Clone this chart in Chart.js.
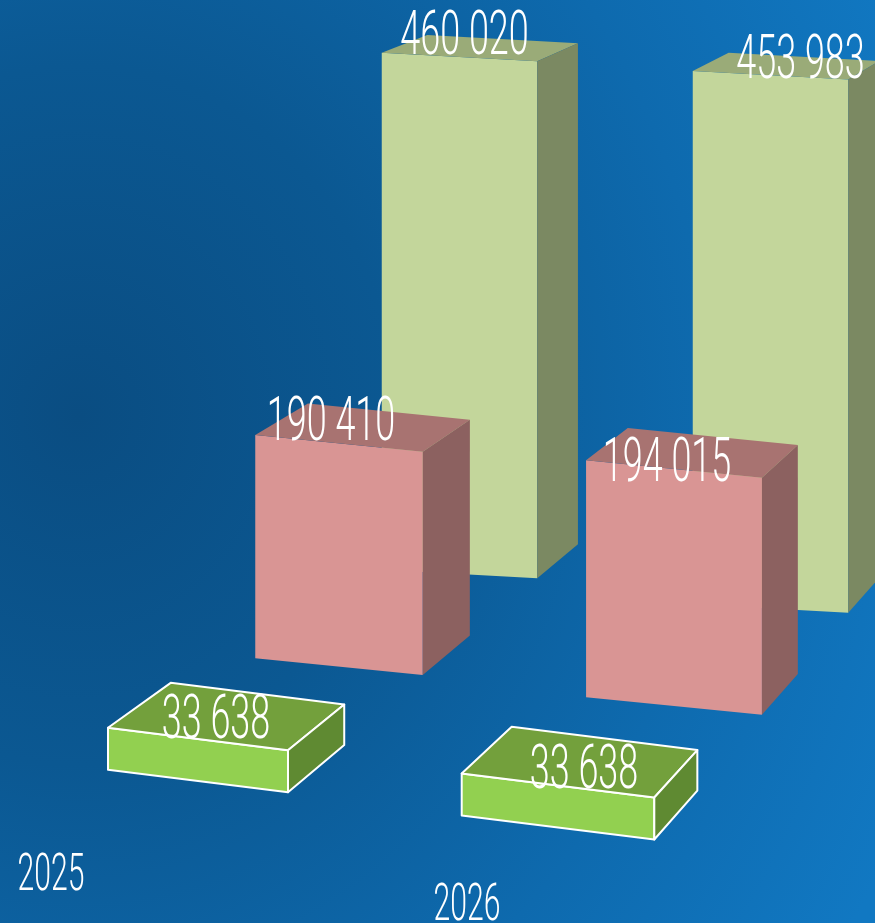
<!DOCTYPE html>
<html>
<head>
<meta charset="utf-8">
<script src="https://cdn.jsdelivr.net/npm/chart.js@4.4.1/dist/chart.umd.min.js"></script>
<style>
  html, body { margin: 0; padding: 0; overflow: hidden; }
  #wrap {
    width: 875px; height: 923px; position: relative;
    background: radial-gradient(ellipse 900px 1000px at 9% 45%, #0a4d82 0%, #0b5892 35%, #0e6aae 70%, #1178c2 100%);
  }
</style>
</head>
<body>
<div id="wrap"><canvas id="boxes" width="875" height="923"></canvas></div>
<script>
// categories
var years = [2025, 2026];

// series values (front row to back row)
var smallGreen = [33638, 33638];
var pinkValues = [190410, 194015];
var paleGreen = [460020, 453983];

// look of each row: colours of front / top / side faces
var faceColors = [
  { front: '#92d050', top: '#73a03c', side: '#5f8a32', outline: '#ffffff' },
  { front: '#d99594', top: '#a87371', side: '#8c6160', outline: null },
  { front: '#c3d69b', top: '#9aab78', side: '#7b8962', outline: null }
];

// perspective placement of each row (pixel layout, not data)
var rowViews = [
  { center: 198, spacing: 360, base: 781, pxPerUnit: 0.0012486, catSkew: 0.129, barSkew: 0.125, wGrow: 1.07, hGrow: 1.0, depth: 0.036 },
  { center: 339, spacing: 335, base: 666.5, pxPerUnit: 0.0011712, catSkew: 0.118, barSkew: 0.10, wGrow: 1.05, hGrow: 1.043, depth: 0.033 },
  { center: 459.5, spacing: 311, base: 574, pxPerUnit: 0.0011239, catSkew: 0.111, barSkew: 0.055, wGrow: 1.0, hGrow: 1.045, depth: 0.031 }
];
// label nudges per row, per category: [dx, dy]
var labelNudge = [
  [[18, -1], [26, 3]],
  [[-8, -3], [-7, 12]],
  [[5, -3], [30, 3]]
];
var vanish = { x: 1850, y: -520 };
var W = 875, H = 923;

function fmt(v) {
  return String(v).replace(/\B(?=(\d{3})+(?!\d))/g, ' ');
}

// build axis bounds so that each row sits where it does in the picture
function xBounds(view) {
  var min = years[0] - view.center / view.spacing;
  return { min: min, max: min + W / view.spacing };
}
function yBounds(view) {
  var min = -(H - view.base) / view.pxPerUnit;
  return { min: min, max: min + H / view.pxPerUnit };
}

var seriesList = [smallGreen, pinkValues, paleGreen];
var scales = {};
var datasets = seriesList.map(function (vals, d) {
  var xb = xBounds(rowViews[d]), yb = yBounds(rowViews[d]);
  scales['x' + d] = { type: 'linear', display: false, offset: false, min: xb.min, max: xb.max };
  scales['y' + d] = { type: 'linear', display: false, min: yb.min, max: yb.max };
  return {
    data: vals.map(function (v, i) { return { x: years[i], y: v }; }),
    xAxisID: 'x' + d,
    yAxisID: 'y' + d,
    backgroundColor: 'rgba(0,0,0,0)',
    borderWidth: 0
  };
});
// axis for the year labels
scales.xYear = { type: 'linear', display: false, offset: false, min: years[0] - 51 / 416, max: years[0] - 51 / 416 + W / 416 };

function back(p, t) {
  return { x: p.x + t * (vanish.x - p.x), y: p.y + t * (vanish.y - p.y) };
}

function boxGeom(chart, d, i) {
  var ds = chart.data.datasets[d];
  var v = rowViews[d];
  var xs = chart.scales[ds.xAxisID], ys = chart.scales[ds.yAxisID];
  var c0 = xs.getPixelForValue(years[0]);
  var cx = xs.getPixelForValue(years[i]);
  var spacing = Math.abs(xs.getPixelForValue(years[1]) - c0);
  var w = spacing * 0.5 * (1 + (v.wGrow - 1) * i);
  var zero = ys.getPixelForValue(0);
  var h = (zero - ys.getPixelForValue(ds.data[i].y)) * (1 + (v.hGrow - 1) * i);
  var baseC = zero + v.catSkew * (cx - c0);
  var bl = { x: cx - w / 2, y: baseC - v.barSkew * w / 2 };
  var br = { x: cx + w / 2, y: baseC + v.barSkew * w / 2 };
  var tl = { x: bl.x, y: bl.y - h };
  var tr = { x: br.x, y: br.y - h };
  return { cx: cx, topC: baseC - h, bl: bl, br: br, tl: tl, tr: tr,
    btl: back(tl, v.depth), btr: back(tr, v.depth), bbr: back(br, v.depth) };
}

function face(ctx, pts, fill, stroke) {
  ctx.beginPath();
  ctx.moveTo(pts[0].x, pts[0].y);
  for (var k = 1; k < pts.length; k++) ctx.lineTo(pts[k].x, pts[k].y);
  ctx.closePath();
  ctx.fillStyle = fill;
  ctx.fill();
  if (stroke) {
    ctx.strokeStyle = stroke;
    ctx.lineWidth = 2;
    ctx.lineJoin = 'round';
    ctx.stroke();
  }
}

function drawText(ctx, text, cx, baseline, size) {
  ctx.save();
  ctx.translate(cx, baseline);
  ctx.scale(0.58, 1);
  ctx.font = '300 ' + size + 'px Roboto, "DejaVu Sans", sans-serif';
  ctx.fillStyle = '#ffffff';
  ctx.textAlign = 'center';
  ctx.textBaseline = 'alphabetic';
  ctx.fillText(text, 0, 0);
  ctx.restore();
}

var boxPlugin = {
  id: 'boxes3d',
  afterDatasetsDraw: function (chart) {
    var ctx = chart.ctx;
    var order = [2, 1, 0];
    ctx.save();
    order.forEach(function (d) {
      var col = faceColors[d];
      years.forEach(function (y, i) {
        var g = boxGeom(chart, d, i);
        face(ctx, [g.bl, g.br, g.tr, g.tl], col.front, col.outline);
        face(ctx, [g.tl, g.tr, g.btr, g.btl], col.top, col.outline);
        face(ctx, [g.tr, g.br, g.bbr, g.btr], col.side, col.outline);
      });
    });
    // value labels
    order.forEach(function (d) {
      years.forEach(function (y, i) {
        var g = boxGeom(chart, d, i);
        var n = labelNudge[d][i];
        drawText(ctx, fmt(chart.data.datasets[d].data[i].y), g.cx + n[0], g.topC + n[1], 62);
      });
    });
    // year labels
    var ys = chart.scales.xYear;
    years.forEach(function (y, i) {
      var px = ys.getPixelForValue(y);
      drawText(ctx, String(y), px, 890 + 0.072 * (px - ys.getPixelForValue(years[0])), 52);
    });
    ctx.restore();
  }
};

var chart = new Chart(document.getElementById('boxes'), {
  type: 'bar',
  data: { datasets: datasets },
  options: {
    responsive: false,
    animation: false,
    devicePixelRatio: 1,
    layout: { padding: 0 },
    categoryPercentage: 1,
    barPercentage: 0.5,
    plugins: { legend: { display: false }, tooltip: { enabled: false } },
    scales: scales
  },
  plugins: [boxPlugin]
});
</script>
</body>
</html>
